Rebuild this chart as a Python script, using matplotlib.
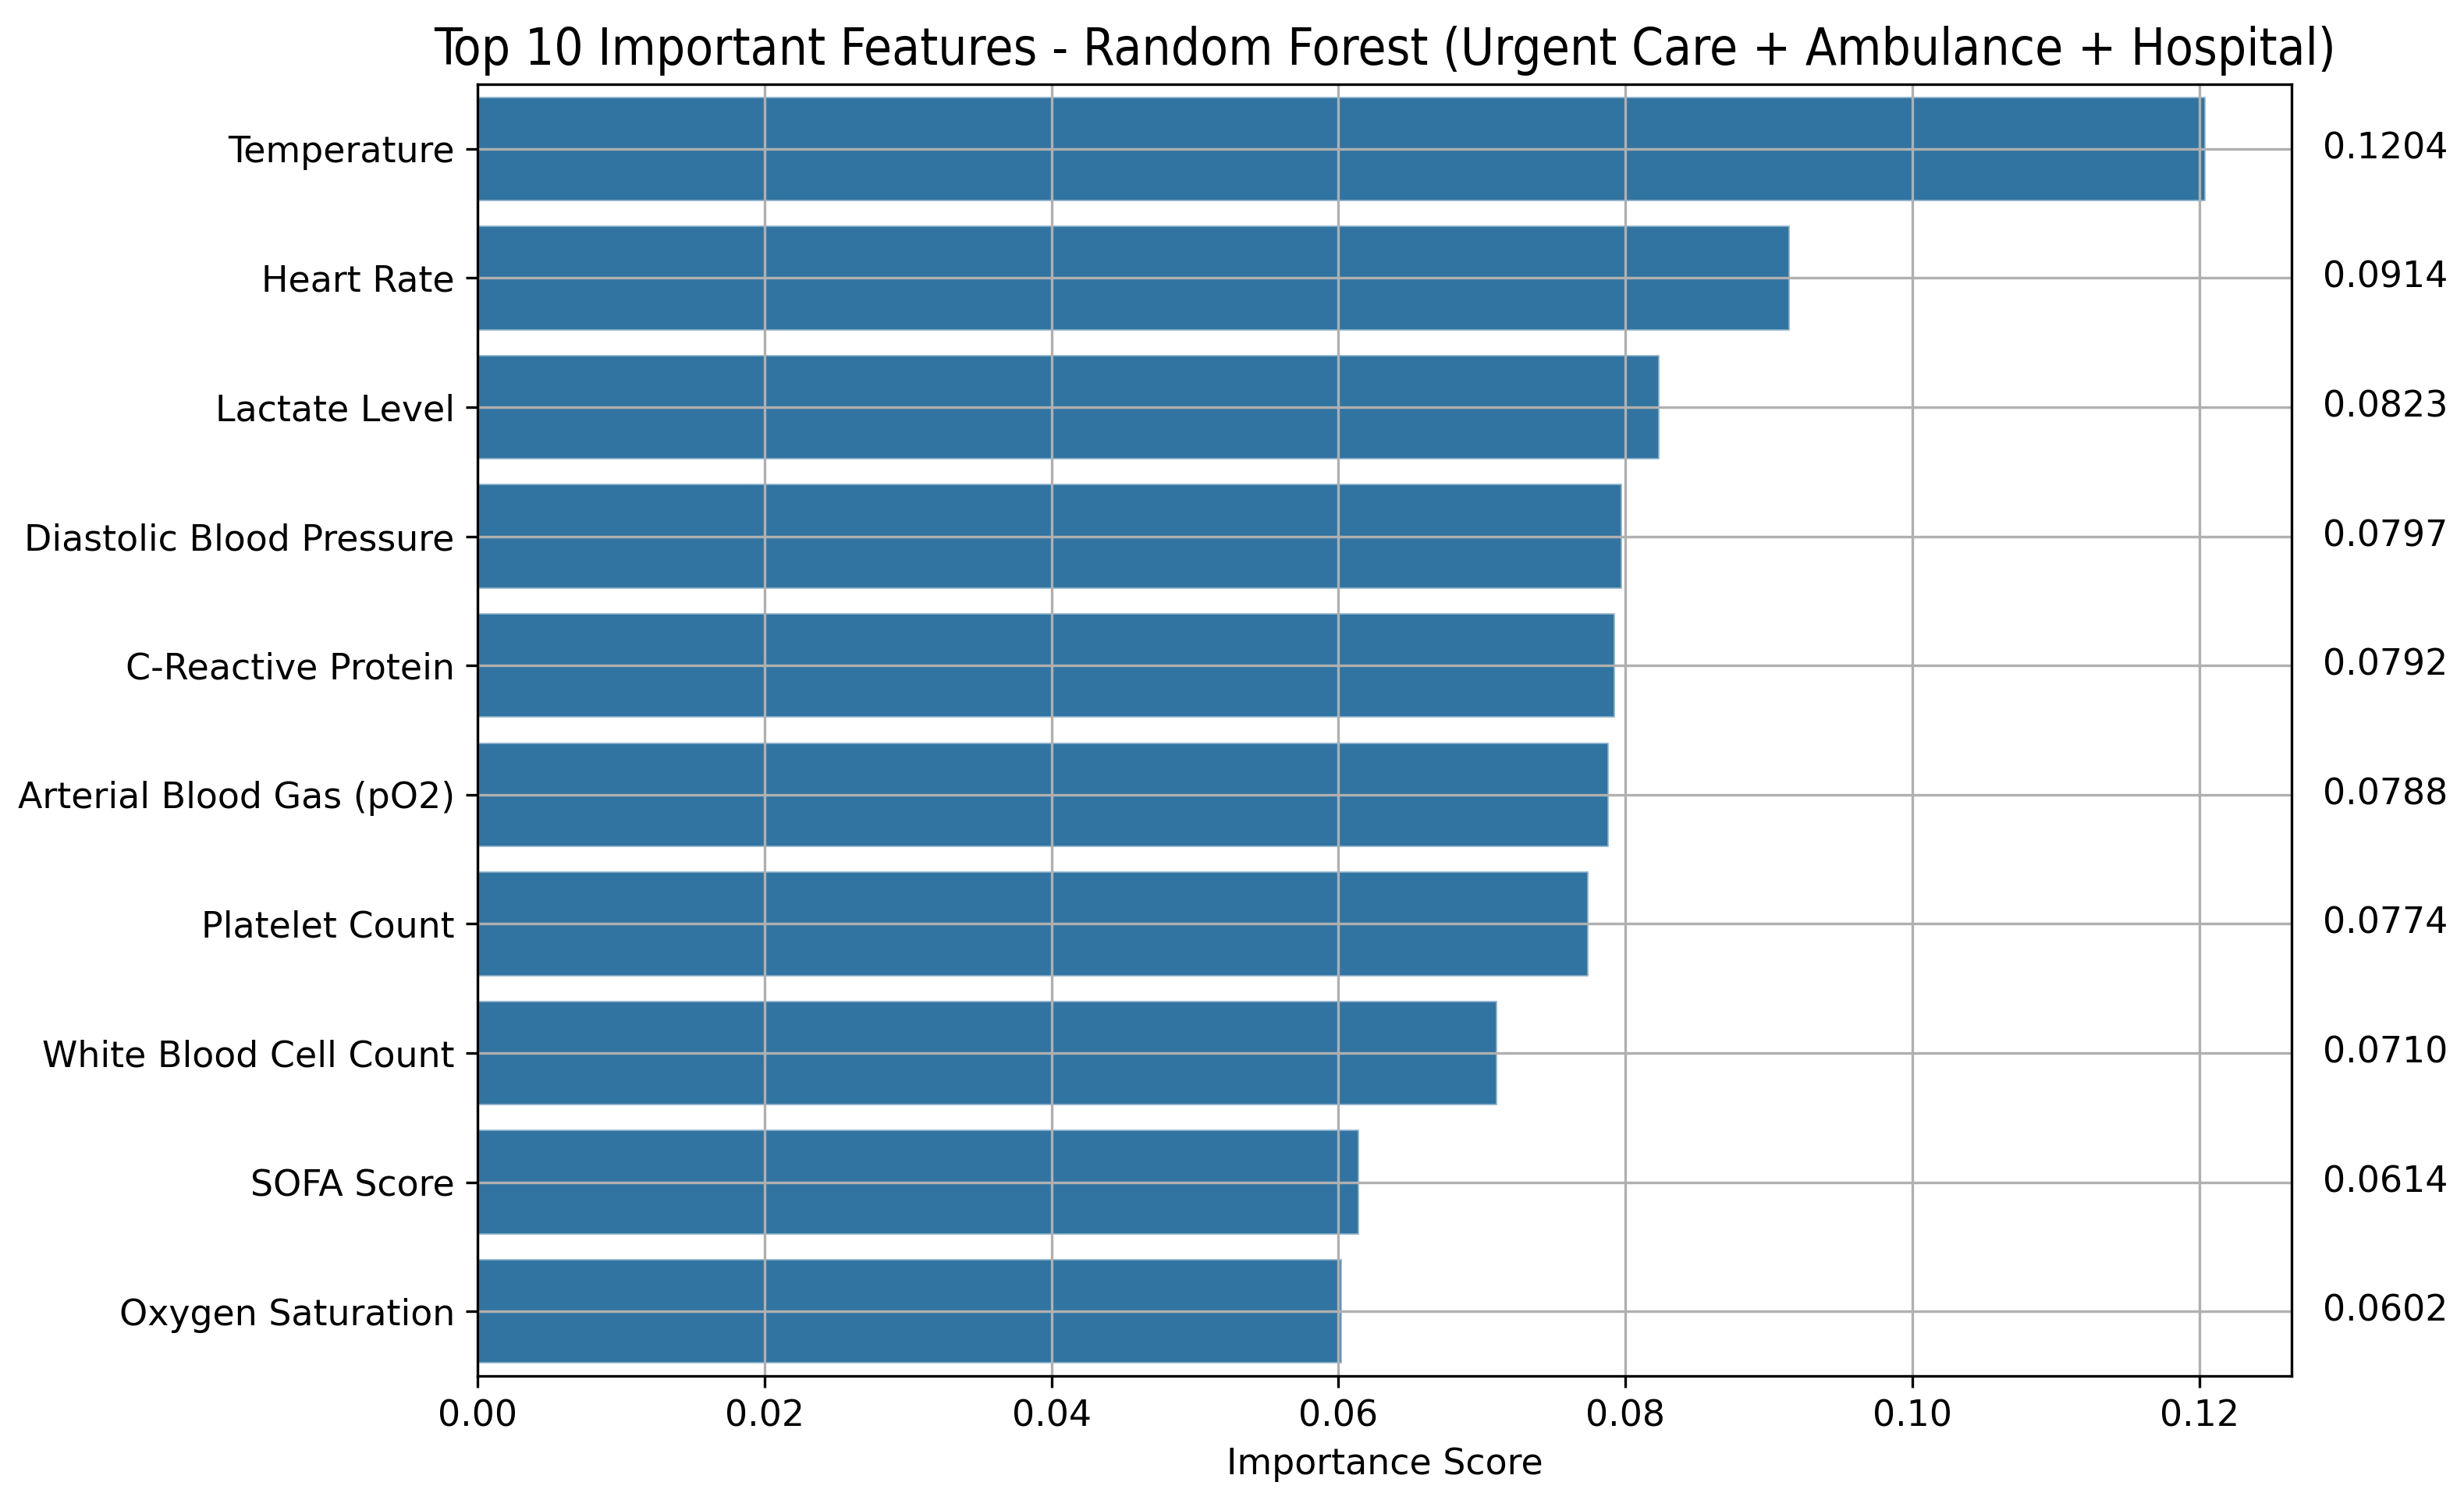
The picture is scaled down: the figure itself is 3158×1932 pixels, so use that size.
import matplotlib
matplotlib.use("Agg")
import matplotlib.pyplot as plt

features = ["Temperature", "Heart Rate", "Lactate Level", "Diastolic Blood Pressure",
            "C-Reactive Protein", "Arterial Blood Gas (pO2)", "Platelet Count",
            "White Blood Cell Count", "SOFA Score", "Oxygen Saturation"]
importance = [0.1204, 0.0914, 0.0823, 0.0797, 0.0792, 0.0788, 0.0774, 0.0710, 0.0614, 0.0602]

fig = plt.figure(figsize=(3158/300, 1932/300), dpi=300)
ax = fig.add_axes([612/3158, 1 - 1764/1932, (2937-612)/3158, (1764-108)/1932])

ypos = list(range(len(features)))
ax.barh(ypos, importance, height=0.8, color="#3274a1", edgecolor="#8fb3cc", linewidth=0.4)
ax.set_yticks(ypos)
ax.set_yticklabels(features, fontsize=11)
ax.set_ylim(len(features) - 0.5, -0.5)
ax.set_xlim(0, max(importance) * 1.05)
ax.tick_params(axis="x", labelsize=11)
ax.grid(True, color="#b0b0b0", linewidth=0.8)
ax.set_xlabel("Importance Score", fontsize=11)
ax.set_title("Top 10 Important Features - Random Forest (Urgent Care + Ambulance + Hospital)",
             fontsize=15.7, family="DejaVu Sans", fontstretch="condensed", pad=6)

for i, v in enumerate(importance):
    ax.text(max(importance) * 1.068, i, f"{v:.4f}", va="center", ha="left", fontsize=11)

fig.savefig("out.png", dpi=300)
